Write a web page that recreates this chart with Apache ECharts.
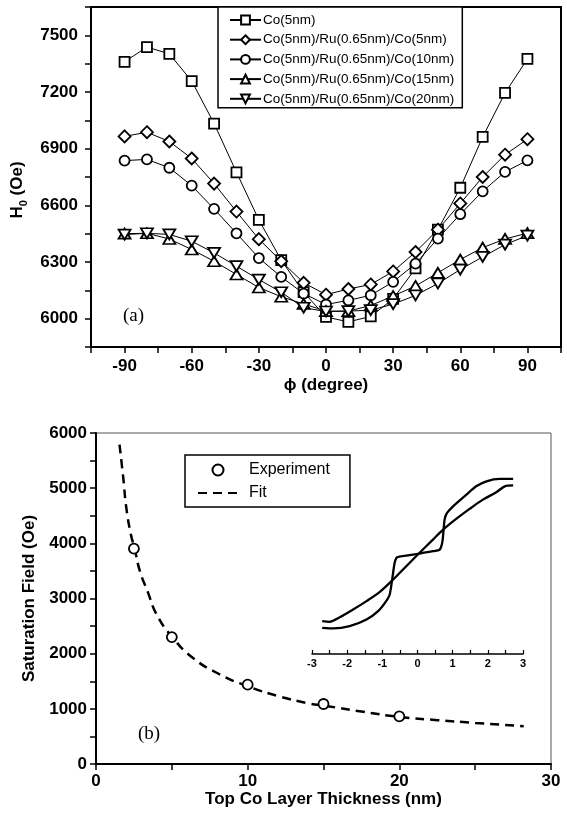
<!DOCTYPE html>
<html>
<head>
<meta charset="utf-8">
<script src="https://cdn.jsdelivr.net/npm/echarts@6/dist/echarts.min.js"></script>
<style>
  html, body { margin: 0; padding: 0; background: #fff; }
  #main { width: 567px; height: 820px; }
</style>
</head>
<body>
<div id="main"></div>
<script>
// (a) H0 vs phi
const phi = [-90, -80, -70, -60, -50, -40, -30, -20, -10, 0, 10, 20, 30, 40, 50, 60, 70, 80, 90];
const co5 = [7360, 7438, 7402, 7258, 7033, 6775, 6523, 6310, 6140, 6009, 5983, 6012, 6105, 6266, 6471, 6693, 6962, 7195, 7375];
const co5co5 = [6965, 6987, 6938, 6848, 6715, 6567, 6421, 6304, 6190, 6127, 6157, 6181, 6250, 6353, 6471, 6610, 6750, 6868, 6950];
const co5co10 = [6837, 6843, 6799, 6704, 6581, 6452, 6321, 6221, 6133, 6075, 6097, 6124, 6195, 6291, 6424, 6553, 6674, 6777, 6838];
const co5co15 = [6450, 6452, 6422, 6366, 6304, 6234, 6165, 6116, 6078, 6040, 6040, 6070, 6120, 6173, 6243, 6313, 6376, 6422, 6453];
const co5co20 = [6445, 6452, 6446, 6410, 6348, 6278, 6207, 6140, 6058, 6038, 6040, 6045, 6077, 6123, 6186, 6260, 6327, 6392, 6440];
const namesA = ['Co(5nm)', 'Co(5nm)/Ru(0.65nm)/Co(5nm)', 'Co(5nm)/Ru(0.65nm)/Co(10nm)',
  'Co(5nm)/Ru(0.65nm)/Co(15nm)', 'Co(5nm)/Ru(0.65nm)/Co(20nm)'];

// (b) saturation field vs top Co thickness
const expThickness = [2.5, 5, 10, 15, 20];
const expField = [3905, 2300, 1438, 1088, 864];
const fitThickness = [1.55, 1.8, 2.0, 2.3, 2.55, 2.9, 3.4, 4.0, 5.0, 6.4, 8.2, 10, 12.1, 14.1, 15, 17.5, 20, 22.5, 25, 28.2];
const fitField = [5790, 5180, 4640, 4160, 3900, 3490, 3130, 2710, 2310, 1920, 1620, 1410, 1225, 1095, 1060, 950, 855, 795, 745, 685];

// inset loop (field, normalised moment)
const loopSmoothH = [-2.71, -2.5, -2.21, -1.83, -1.45, -1.08, -0.74, -0.41, 0.01, 0.44, 0.73, 1.1, 1.48, 1.86, 2.24, 2.48, 2.72];
const loopSmoothM = [-0.91, -0.92, -0.86, -0.756, -0.644, -0.524, -0.378, -0.222, -0.022, 0.178, 0.311, 0.453, 0.587, 0.711, 0.809, 0.889, 0.902];
const loopStepH = [-2.71, -2.4, -1.93, -1.45, -1.12, -0.89, -0.79, -0.72, -0.65, -0.58, -0.32, 0.06, 0.44, 0.63, 0.71, 0.77, 0.84, 1.01, 1.39, 1.67, 1.96, 2.34, 2.72];
const loopStepM = [-1.0, -1.009, -0.978, -0.889, -0.778, -0.644, -0.556, -0.356, -0.133, -0.058, -0.036, -0.009, 0.022, 0.044, 0.156, 0.444, 0.533, 0.622, 0.778, 0.889, 0.956, 0.987, 0.987];

const font = 'Liberation Sans, Arial, Helvetica, sans-serif';
const pair = (xs, ys) => xs.map((x, i) => [x, ys[i]]);

const tick = { show: true, length: 6, lineStyle: { color: '#000', width: 1.5 } };
const line = { show: true, onZero: false, lineStyle: { color: '#000', width: 2 } };
const lab = { color: '#000', fontFamily: font, fontWeight: 'bold', fontSize: 17 };
const hollow = { color: '#fff', borderColor: '#000', borderWidth: 1.8, opacity: 1 };

function markSeries(name, data, symbol, size) {
  return {
    name: name, type: 'line', xAxisIndex: 0, yAxisIndex: 0,
    data: data, symbol: symbol, symbolSize: size,
    itemStyle: hollow,
    lineStyle: { color: '#000', width: 1 },
    emphasis: { disabled: true }
  };
}

const downTri = 'path://M0,0 L12,0 L6,10 Z';
const upTri = 'path://M6,0 L12,10 L0,10 Z';

let myChart = echarts.init(document.getElementById('main'));
let option = {
  animation: false,
  backgroundColor: '#fff',
  grid: [
    { left: 91, top: 7, width: 470, height: 340, show: true, borderColor: '#000', borderWidth: 2 },
    { left: 96, top: 433, width: 455, height: 331, show: true, borderColor: '#555', borderWidth: 1 },
    { left: 312, top: 478, width: 211, height: 176 }
  ],
  legend: [
    {
      data: namesA, orient: 'vertical', left: 218, top: 7,
      padding: [6, 8, 2, 11], itemWidth: 31, itemHeight: 11, itemGap: 5.7,
      borderColor: '#000', borderWidth: 1.5, backgroundColor: '#fff',
      textStyle: { fontFamily: font, fontSize: 13.5, color: '#000', padding: [0, 0, 0, -3] }
    },
    {
      data: ['Experiment', { name: 'Fit', itemStyle: { opacity: 0 } }], orient: 'vertical', left: 185, top: 455,
      padding: [7, 20, 6, 12], itemWidth: 40, itemHeight: 11, itemGap: 7,
      borderColor: '#000', borderWidth: 1.5, backgroundColor: '#fff',
      textStyle: { fontFamily: font, fontSize: 16, color: '#000', padding: [0, 0, 0, 6] }
    }
  ],
  xAxis: [
    {
      gridIndex: 0, type: 'value', min: -105, max: 105, interval: 15,
      name: 'ϕ (degree)', nameLocation: 'middle', nameGap: 30,
      nameTextStyle: { color: '#000', fontFamily: font, fontWeight: 'bold', fontSize: 17 },
      axisLine: line, axisTick: tick, splitLine: { show: false },
      axisLabel: Object.assign({ margin: 11, formatter: v => (v % 30 === 0 ? v : '') }, lab)
    },
    {
      gridIndex: 1, type: 'value', min: 0, max: 30, interval: 5,
      name: 'Top Co Layer Thickness (nm)', nameLocation: 'middle', nameGap: 25,
      nameTextStyle: { color: '#000', fontFamily: font, fontWeight: 'bold', fontSize: 17 },
      axisLine: line, axisTick: tick, splitLine: { show: false },
      axisLabel: Object.assign({ margin: 9, formatter: v => (v % 10 === 0 ? v : '') }, lab)
    },
    {
      gridIndex: 2, type: 'value', min: -3, max: 3, interval: 0.5,
      axisLine: { show: true, onZero: false, lineStyle: { color: '#000', width: 1.5 } },
      axisTick: { show: true, inside: true, length: 4, lineStyle: { color: '#000', width: 1.2 } },
      splitLine: { show: false },
      axisLabel: { margin: 4, color: '#000', fontFamily: font, fontWeight: 'bold', fontSize: 11,
        formatter: v => (Number.isInteger(v) ? v : '') }
    }
  ],
  yAxis: [
    {
      gridIndex: 0, type: 'value', min: 5850, max: 7650, interval: 150,
      name: '{a|H}{b|0}{a| (Oe)}', nameLocation: 'middle', nameGap: 60,
      nameTextStyle: {
        padding: [0, 26, 0, 0],
        rich: {
          a: { color: '#000', fontFamily: font, fontWeight: 'bold', fontSize: 17, lineHeight: 24 },
          b: { color: '#000', fontFamily: font, fontWeight: 'bold', fontSize: 11, lineHeight: 12, verticalAlign: 'bottom' }
        }
      },
      axisLine: line, axisTick: tick, splitLine: { show: false },
      axisLabel: Object.assign({ margin: 13, formatter: v => (v % 300 === 0 ? v : '') }, lab)
    },
    {
      gridIndex: 1, type: 'value', min: 0, max: 6000, interval: 500,
      name: 'Saturation Field (Oe)', nameLocation: 'middle', nameGap: 58,
      nameTextStyle: { color: '#000', fontFamily: font, fontWeight: 'bold', fontSize: 17 },
      axisLine: line, axisTick: tick, splitLine: { show: false },
      axisLabel: Object.assign({ margin: 9, formatter: v => (v % 1000 === 0 ? v : '') }, lab)
    },
    { gridIndex: 2, type: 'value', min: -1.35, max: 1, show: false }
  ],
  series: [
    markSeries(namesA[0], pair(phi, co5), 'rect', 10),
    markSeries(namesA[1], pair(phi, co5co5), 'diamond', [12, 12]),
    markSeries(namesA[2], pair(phi, co5co10), 'circle', 10),
    markSeries(namesA[3], pair(phi, co5co15), upTri, [12, 10]),
    markSeries(namesA[4], pair(phi, co5co20), downTri, [12, 10]),
    {
      name: 'Fit', type: 'line', xAxisIndex: 1, yAxisIndex: 1,
      data: pair(fitThickness, fitField), symbol: 'none', smooth: true,
      lineStyle: { color: '#000', width: 2.5, type: [9, 6] },
      itemStyle: { color: '#000' }
    },
    {
      name: 'Experiment', type: 'scatter', xAxisIndex: 1, yAxisIndex: 1,
      data: pair(expThickness, expField), symbol: 'circle', symbolSize: 10,
      itemStyle: hollow, z: 5
    },
    {
      name: 'loopSmooth', type: 'line', xAxisIndex: 2, yAxisIndex: 2,
      data: pair(loopSmoothH, loopSmoothM), symbol: 'none', smooth: 0.3,
      lineStyle: { color: '#000', width: 2.3 }
    },
    {
      name: 'loopStep', type: 'line', xAxisIndex: 2, yAxisIndex: 2,
      data: pair(loopStepH, loopStepM), symbol: 'none', smooth: 0.2,
      lineStyle: { color: '#000', width: 2.3 }
    }
  ],
  graphic: [
    { type: 'text', left: 123, top: 307, style: { text: '(a)', font: '19px "Liberation Serif", "Times New Roman", serif', fill: '#000' } },
    { type: 'text', left: 138, top: 725, style: { text: '(b)', font: '19px "Liberation Serif", "Times New Roman", serif', fill: '#000' } }
  ]
};
myChart.setOption(option);
</script>
</body>
</html>
